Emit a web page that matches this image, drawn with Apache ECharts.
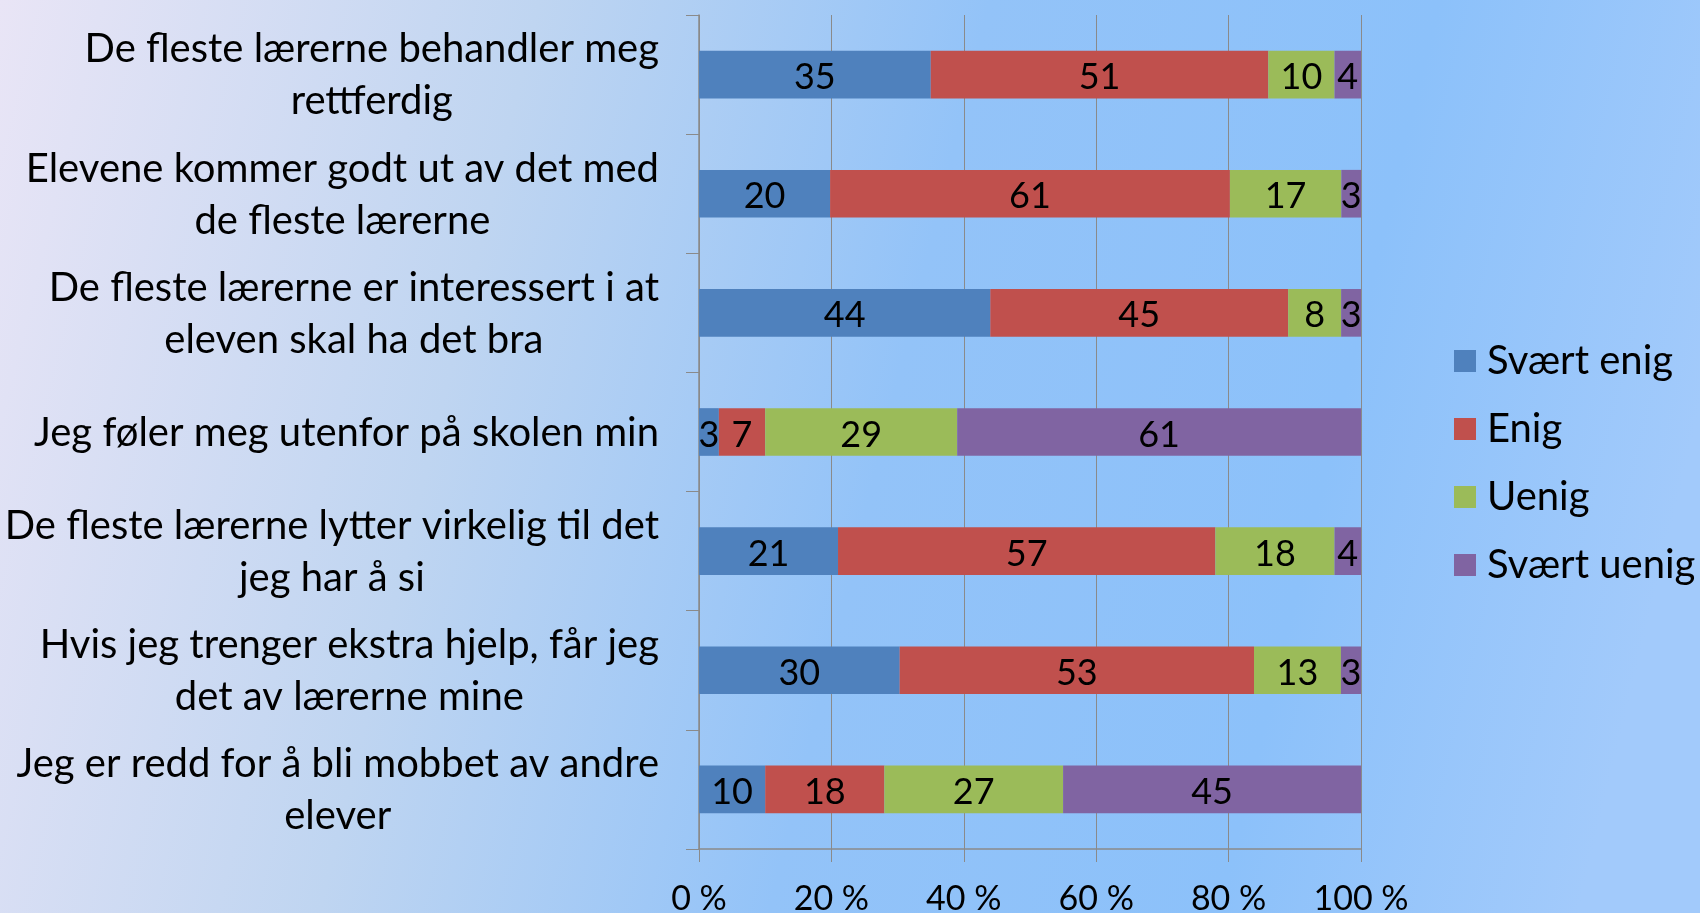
<!DOCTYPE html>
<html>
<head>
<meta charset="utf-8">
<script src="https://cdn.jsdelivr.net/npm/echarts@6/dist/echarts.min.js"></script>
<style>
  html, body { margin: 0; padding: 0; }
  #chart { width: 1700px; height: 913px; }
</style>
</head>
<body>
<div id="chart"></div>
<script>
// statements, top to bottom
const categories = [
  'De fleste lærerne behandler meg\nrettferdig',
  'Elevene kommer godt ut av det med\nde fleste lærerne',
  'De fleste lærerne er interessert i at\neleven skal ha det bra',
  'Jeg føler meg utenfor på skolen min',
  'De fleste lærerne lytter virkelig til det\njeg har å si',
  'Hvis jeg trenger ekstra hjelp, får jeg\ndet av lærerne mine',
  'Jeg er redd for å bli mobbet av andre\nelever'
]

const seriesNames = ['Svært enig', 'Enig', 'Uenig', 'Svært uenig']
const colors = ['#4f81bd', '#c0504d', '#9bbb59', '#8064a2']

// answers in percent, as printed on the bars
const sværtEnig = [35, 20, 44, 3, 21, 30, 10]
const enig = [51, 61, 45, 7, 57, 53, 18]
const uenig = [10, 17, 8, 29, 18, 13, 27]
const sværtUenig = [4, 3, 3, 61, 4, 3, 45]

const xTicks = [0, 20, 40, 60, 80, 100]

const raw = [sværtEnig, enig, uenig, sværtUenig]

// 100% stacked: each row is scaled to its own total
const rowTotals = categories.map((c, i) => raw.reduce((s, arr) => s + arr[i], 0))

const font = 'Lato'

const chart = echarts.init(document.getElementById('chart'))

const option = {
  backgroundColor: new echarts.graphic.LinearGradient(0, 0, 1, 0.45, [
    { offset: 0, color: '#e9e5f6' },
    { offset: 0.3, color: '#bfd5f1' },
    { offset: 0.55, color: '#93c3f8' },
    { offset: 0.8, color: '#8cc1fa' },
    { offset: 1, color: '#a2cafb' }
  ]),
  textStyle: { fontFamily: font },
  legend: {
    orient: 'vertical',
    left: 1454,
    top: 341,
    padding: 0,
    icon: 'rect',
    itemWidth: 22,
    itemHeight: 22,
    itemGap: 28,
    data: seriesNames,
    textStyle: {
      fontFamily: font,
      fontSize: 40,
      color: '#000',
      padding: [0, 0, 0, 6]
    }
  },
  grid: {
    left: 699,
    top: 15,
    width: 662,
    height: 834,
    containLabel: false,
    outerBoundsMode: 'none'
  },
  xAxis: {
    type: 'value',
    min: xTicks[0],
    max: xTicks[xTicks.length - 1],
    interval: xTicks[1] - xTicks[0],
    axisLine: { show: true, lineStyle: { color: '#8a8a8a', width: 1.5 } },
    axisTick: { show: true, length: 13, lineStyle: { color: '#8a8a8a' } },
    splitLine: { show: true, lineStyle: { color: '#8a8a8a', width: 1 } },
    axisLabel: {
      margin: 33,
      fontFamily: font,
      fontSize: 34,
      color: '#000',
      formatter: '{value} %'
    }
  },
  yAxis: {
    type: 'category',
    data: categories,
    inverse: true,
    axisLine: { show: true, lineStyle: { color: '#8a8a8a', width: 1.5 } },
    axisTick: { show: true, length: 13, lineStyle: { color: '#8a8a8a' } },
    axisLabel: {
      margin: 40,
      fontFamily: font,
      fontSize: 40,
      lineHeight: 52,
      color: '#000',
      formatter: v => v.split('\n').map(l => '{c|' + l + '}').join('\n'),
      rich: {
        c: { align: 'center', fontFamily: font, fontSize: 40, lineHeight: 52, color: '#000', padding: [2, 0, 0, 0] }
      }
    }
  },
  series: raw.map((arr, s) => ({
    name: seriesNames[s],
    type: 'bar',
    stack: 'total',
    barCategoryGap: '60%',
    itemStyle: { color: colors[s] },
    label: {
      show: true,
      position: 'inside',
      offset: [0, 3],
      fontFamily: font,
      fontSize: 36,
      color: '#000',
      formatter: p => String(arr[p.dataIndex])
    },
    data: arr.map((v, i) => v / rowTotals[i] * 100)
  }))
}

chart.setOption(option)
</script>
</body>
</html>
